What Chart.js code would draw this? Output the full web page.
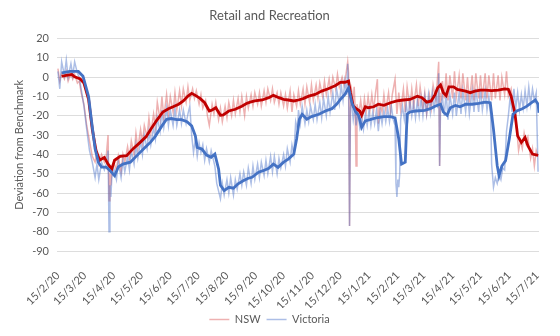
<!DOCTYPE html>
<html>
<head>
<meta charset="utf-8">
<script src="https://cdn.jsdelivr.net/npm/chart.js@4.4.1/dist/chart.umd.min.js"></script>
<style>
  html, body { margin: 0; padding: 0; background: #fff; }
</style>
</head>
<body>
<canvas id="myChart" width="560" height="336"></canvas>
<script>
// x values are days counted from 15/2/20
const tickLabels = [
    '15/2/20', '15/3/20', '15/4/20', '15/5/20', '15/6/20', '15/7/20',
    '15/8/20', '15/9/20', '15/10/20', '15/11/20', '15/12/20', '15/1/21',
    '15/2/21', '15/3/21', '15/4/21', '15/5/21', '15/6/21', '15/7/21'
];

// daily readings (weekday / weekend swings)
const nswRaw = [
    [0,4.5],[2,-2],[4,2],[7,-1],[9,3],[11,-2],[14,2],[16,-1],[18,1.5],[21,-3],[23,-2],[25,-8],
    [28,-14],[31,-25],[34,-33],[37,-41],[40,-44],[42,-39],[44,-45],[47,-40],[50,-44],[52,-41],
    [54,-30],[55,-64],[56,-50],[57,-56],[58,-49],[60,-44],[63,-48],[65,-41],[68,-49],[70,-40],
    [72,-44],[75,-36],[77,-42],[79,-33],[82,-40],[84,-29],[86,-37],[89,-27],[91,-34],[93,-25],
    [96,-31],[98,-21],[100,-29],[103,-19],[105,-26],[107,-13],[110,-22],[112,-10],[114,-21],
    [117,-9],[119,-19],[121,-10],[124,-18],[126,-8],[128,-17],[131,-7],[133,-15],[135,-6],
    [138,-13],[140,-5],[142,-12],[145,-6],[147,-11],[149,-7],[152,-14],[154,-9],[156,-16],
    [159,-12],[161,-20],[163,-25],[166,-14],[168,-19],[170,-13],[173,-22],[175,-16],[177,-23],
    [180,-15],[182,-21],[184,-13],[187,-20],[189,-12],[191,-19],[194,-11],[196,-18],[198,-10],
    [201,-20],[203,-10],[205,-16],[208,-9],[210,-15],[212,-8],[215,-14],[217,-8],[219,-15],
    [222,-7],[224,-13],[226,-6],[229,-12],[231,-6],[233,-13],[236,-8],[238,-14],[240,-8],
    [243,-15],[245,-9],[247,-16],[250,-7],[252,-18],[254,-9],[257,-15],[259,-7],[261,-14],
    [264,-6],[266,-14],[268,-5],[271,-13],[273,-4],[275,-12],[278,-4],[280,-11],[282,-3],
    [285,-10],[287,-2],[289,-9],[292,-1],[294,-8],[296,0],[299,-6],[301,1.5],[303,-5],[306,0],
    [308,-4],[310,1],[312,8],[313,2],[314,-77],[315,-10],[316,-6],[318,-12],[319,-5],[320,-15],
    [321,-46],[322,-14],[324,-19],[326,-12],[328,-20],[330,-11],[332,-18],[334,-10],[336,-17],
    [338,-9],[340,-17],[342,-8],[344,-1],[345,-24],[347,-14],[349,-18],[351,-9],[353,-17],
    [356,-8],[358,-18],[360,-9],[363,-1],[365,-19],[367,-8],[369,-17],[372,-6],[374,-18],
    [376,-5],[379,-16],[381,-6],[383,-15],[386,-4],[388,-15],[390,-5],[393,-16],[395,-8],
    [397,-19],[400,-9],[402,-16],[404,-4],[407,-12],[410,8],[411,-46],[412,-8],[413,-12],
    [414,-2],[416,-11],[418,2],[420,-12],[422,1],[425,-11],[427,3],[429,-10],[432,1],[434,-11],
    [436,2],[439,-12],[441,0],[443,-13],[446,1],[448,-12],[450,2],[453,-11],[455,1],[457,-11],
    [460,2],[462,-11],[464,1],[467,-12],[469,2],[471,-11],[474,1],[476,-12],[478,0],[481,-9],
    [483,3],[485,-10],[488,-6],[490,-14],[492,-20],[494,-27],[496,-38],[498,-33],[500,-37],
    [502,-29],[504,-34],[506,-31],[509,-42],[511,-37],[513,-46],[515,-38],[517,-41]
];

const vicRaw = [
    [0,3],[2,-6],[4,8],[7,1],[9,9],[11,0],[14,7],[16,1],[18,8],[21,2],[23,0],[25,-6],[28,-15],
    [31,-27],[34,-38],[37,-44],[40,-52],[42,-45],[44,-53],[47,-44],[50,-48],[52,-45],[54,-38],
    [55,-80],[56,-56],[57,-62],[58,-52],[60,-47],[63,-53],[65,-44],[68,-52],[70,-43],[72,-49],
    [75,-41],[77,-48],[79,-38],[82,-45],[84,-35],[86,-42],[89,-33],[91,-40],[93,-30],[96,-37],
    [98,-28],[100,-35],[103,-26],[105,-32],[107,-21],[110,-28],[112,-17],[114,-26],[117,-16],
    [119,-25],[121,-17],[124,-25],[126,-16],[128,-25],[131,-17],[133,-24],[135,-17],[138,-24],
    [140,-19],[142,-15],[144,-30],[146,-39],[148,-32],[150,-41],[152,-34],[154,-39],[156,-35],
    [158,-43],[160,-37],[163,-44],[165,-38],[167,-42],[169,-46],[171,-55],[173,-59],[175,-63],
    [177,-55],[179,-61],[182,-53],[184,-60],[186,-52],[189,-61],[191,-53],[193,-58],[196,-50],
    [198,-56],[200,-49],[203,-56],[205,-47],[208,-55],[210,-46],[212,-53],[215,-45],[217,-52],
    [219,-44],[222,-51],[224,-43],[226,-50],[229,-41],[231,-49],[233,-41],[236,-50],[238,-42],
    [240,-47],[243,-40],[245,-46],[247,-37],[250,-44],[252,-35],[254,-40],[256,-23],[258,-27],
    [259,-17],[261,-24],[263,-15],[266,-24],[268,-17],[270,-23],[272,-15],[275,-22],[277,-14],
    [279,-22],[282,-13],[284,-21],[286,-11],[289,-20],[291,-10],[293,-18],[296,-8],[298,-17],
    [300,-6],[303,-14],[305,-4],[307,-12],[309,-2],[311,-9],[312,7],[313,-4],[314,-77],[315,-16],
    [316,-12],[318,-22],[320,-15],[321,-25],[323,-18],[325,-26],[327,-21],[329,-27],[331,-19],
    [333,-25],[335,-17],[337,-25],[339,-18],[341,-24],[343,-17],[345,-28],[347,-18],[349,-24],
    [351,-17],[353,-23],[355,-16],[357,-23],[359,-15],[361,-22],[363,-25],[364,-55],[365,-62],
    [366,-53],[367,-57],[368,-50],[369,-22],[371,-15],[373,-22],[375,-14],[377,-21],[379,-12],
    [381,-20],[383,-13],[385,-21],[387,-12],[389,-20],[391,-11],[393,-20],[395,-10],[397,-19],
    [399,-9],[401,-18],[403,-8],[405,-17],[407,-8],[409,-16],[410,2],[411,-46],[412,-16],
    [414,-10],[416,-20],[418,-8],[420,-22],[422,-9],[425,-19],[427,-8],[429,-20],[432,-8],
    [434,-19],[436,-7],[439,-18],[441,-8],[443,-19],[446,-7],[448,-18],[450,-6],[453,-18],
    [455,-6],[457,-17],[460,-7],[462,-17],[464,-10],[466,-20],[467,-45],[469,-57],[471,-52],
    [473,-55],[475,-50],[477,-53],[479,-47],[481,-48],[483,-28],[485,-20],[487,-10],[489,-18],
    [491,-6],[493,-16],[495,-8],[497,-17],[499,-9],[501,-16],[503,-7],[505,-15],[507,-5],
    [509,-14],[511,-6],[513,-12],[515,-8],[517,-49]
];

// 7-day moving averages
const nswAvg = [
    [4,0.5],[9,1],[15,1.4],[18,0.2],[24,-0.9],[28,-3],[33,-11.5],[37,-27],[41,-38],[45,-43],
    [50,-41.5],[54,-45],[58,-47.5],[61,-43],[67,-41],[74,-40.6],[81,-37],[88,-34],[95,-30.7],
    [100,-27],[106,-22.6],[113,-18],[119,-16.3],[124,-15.3],[130,-14],[135,-12.3],[140,-9.8],
    [144,-8.4],[148,-9.4],[153,-11],[158,-13.2],[163,-17.5],[166,-17],[170,-15.8],[175,-19.7],
    [178,-19.5],[184,-17.5],[191,-16.6],[198,-15],[203,-13.6],[207,-12.9],[212,-12.3],
    [220,-11.8],[227,-10.6],[232,-9.4],[238,-10.6],[243,-11.5],[248,-11.8],[254,-12.3],
    [259,-11.8],[264,-11.1],[270,-9.8],[277,-8.9],[284,-7.2],[291,-6],[299,-4.3],[304,-2.7],
    [309,-2.6],[313,-2],[315,-8],[318,-15],[322,-16.6],[325,-17.5],[327,-19.7],[331,-15.3],
    [334,-15.8],[340,-15.3],[345,-14],[351,-14.6],[358,-13.2],[365,-12.3],[372,-11.8],
    [379,-11.5],[387,-9.8],[392,-10.6],[397,-12.9],[402,-12.3],[406,-9],[409,-5.5],[412,-4],
    [415,-8],[418,-9.5],[421,-5],[426,-5],[430,-6.3],[439,-7.2],[444,-8],[449,-7.2],[455,-6.7],
    [460,-6.7],[467,-6.9],[474,-6.7],[481,-6],[485,-6.2],[488,-9.8],[492,-18.4],[495,-30.4],
    [499,-33.8],[503,-31.2],[506,-35.5],[511,-39.8],[517,-40.5]
];

const vicAvg = [
    [4,2.3],[13,3],[22,3],[27,0.5],[33,-10],[36,-22],[40,-37],[43.5,-44],[47,-46.6],[52,-46.6],
    [56,-48.3],[61,-51],[65,-46.5],[70,-45],[78,-44],[85,-40.6],[94,-36.3],[100,-33.5],
    [105,-30.5],[112,-25.2],[117,-21.8],[122,-21.4],[128,-22],[133,-22],[139,-23],[144,-25.2],
    [148,-30.4],[150,-36.4],[155,-37.2],[160,-40.3],[165,-41.5],[169,-39.8],[173,-47.5],
    [175,-56],[179,-58.7],[184,-57],[189,-57.5],[194,-55.2],[200,-53.5],[205,-52.3],[209,-51.8],
    [216,-49.2],[221,-48.4],[227,-47.2],[232,-45],[237,-46.7],[243,-44],[248,-42.4],[254,-39.8],
    [257,-32],[260,-21.8],[263,-19.2],[268,-21.8],[273,-20.4],[281,-19.2],[288,-17.5],
    [295,-16.3],[300,-14],[305,-11],[309,-8.9],[313,-5.5],[316.5,-13.2],[320,-17.5],[324,-20],
    [327,-26],[331,-22.6],[336,-22],[343,-21],[351,-20.4],[358,-20.4],[363,-21],[367,-32],
    [370,-45],[374,-44],[376,-19.2],[379,-18],[385,-17.5],[395,-17.2],[401,-16.3],[406,-15],
    [412,-14],[415,-18],[419,-19.7],[422.5,-15.8],[428,-14.6],[433,-15.3],[439,-14],[446,-14],
    [453,-13.6],[460,-12.9],[465.5,-13.2],[469,-27],[473,-45.8],[475,-51],[478,-46],
    [482,-43.2],[486,-32],[490,-19.2],[494,-17.5],[500,-16.3],[505,-15],[510,-13.2],
    [514,-11.8],[517,-14],[518,-18.4]
];

const textColor = '#595959';
const fontFamily = 'Lato, "Open Sans", sans-serif';

// day offset of each dd/mm/yy tick label
const dayZero = Date.UTC(2020, 1, 15);
const tickDays = tickLabels.map(s => {
    const [d, m, y] = s.split('/').map(Number);
    return Math.round((Date.UTC(2000 + y, m - 1, d) - dayZero) / 86400000);
});

const toPoints = arr => arr.map(([x, y]) => ({ x, y }));

const data = {
    datasets: [
        {
            label: 'NSW',
            data: toPoints(nswRaw),
            borderColor: 'rgba(215, 70, 70, 0.42)',
            backgroundColor: 'rgba(215, 70, 70, 0.42)',
            borderWidth: 1.5,
            pointRadius: 0,
            order: 4
        },
        {
            label: 'Victoria',
            data: toPoints(vicRaw),
            borderColor: 'rgba(70, 110, 200, 0.45)',
            backgroundColor: 'rgba(70, 110, 200, 0.45)',
            borderWidth: 1.5,
            pointRadius: 0,
            order: 3
        },
        {
            label: 'NSW avg',
            data: toPoints(nswAvg),
            borderColor: '#C00000',
            borderWidth: 2.8,
            pointRadius: 0,
            order: 2
        },
        {
            label: 'Victoria avg',
            data: toPoints(vicAvg),
            borderColor: '#4472C4',
            borderWidth: 2.8,
            pointRadius: 0,
            order: 1
        }
    ]
};

const config = {
    type: 'line',
    data: data,
    options: {
        responsive: false,
        animation: false,
        layout: {
            padding: { top: 0, right: 21, bottom: 1, left: 0 }
        },
        plugins: {
            title: {
                display: true,
                text: 'Retail and Recreation',
                color: textColor,
                font: { family: fontFamily, size: 13, weight: 'normal' },
                padding: { top: 8, bottom: 15 }
            },
            legend: {
                position: 'bottom',
                labels: {
                    usePointStyle: true,
                    pointStyle: 'line',
                    pointStyleWidth: 20,
                    color: textColor,
                    font: { family: fontFamily, size: 11 },
                    padding: 6,
                    filter: item => item.datasetIndex < 2,
                    sort: (a, b) => a.datasetIndex - b.datasetIndex
                }
            },
            tooltip: { enabled: false }
        },
        scales: {
            x: {
                type: 'linear',
                min: -1,
                max: 518,
                grid: { display: false },
                border: { display: false },
                afterBuildTicks: scale => {
                    scale.ticks = tickDays.map(v => ({ value: v }));
                },
                ticks: {
                    autoSkip: false,
                    minRotation: 45,
                    maxRotation: 45,
                    padding: 10,
                    color: textColor,
                    font: { family: fontFamily, size: 11 },
                    callback: (value, index) => tickLabels[index]
                },
                afterFit: scale => {
                    scale.height = 57;
                }
            },
            y: {
                min: -90,
                max: 20,
                ticks: {
                    stepSize: 10,
                    padding: 8,
                    color: textColor,
                    font: { family: fontFamily, size: 11 }
                },
                grid: { color: '#DDDDDD', drawTicks: false },
                border: { display: false },
                title: {
                    display: true,
                    text: 'Deviation from Benchmark',
                    color: textColor,
                    font: { family: fontFamily, size: 11 },
                    padding: { top: 13, bottom: 0 }
                },
                afterFit: scale => {
                    scale.width = 57;
                }
            }
        }
    }
};

const myChart = new Chart(
    document.getElementById('myChart'),
    config
);
</script>
</body>
</html>
